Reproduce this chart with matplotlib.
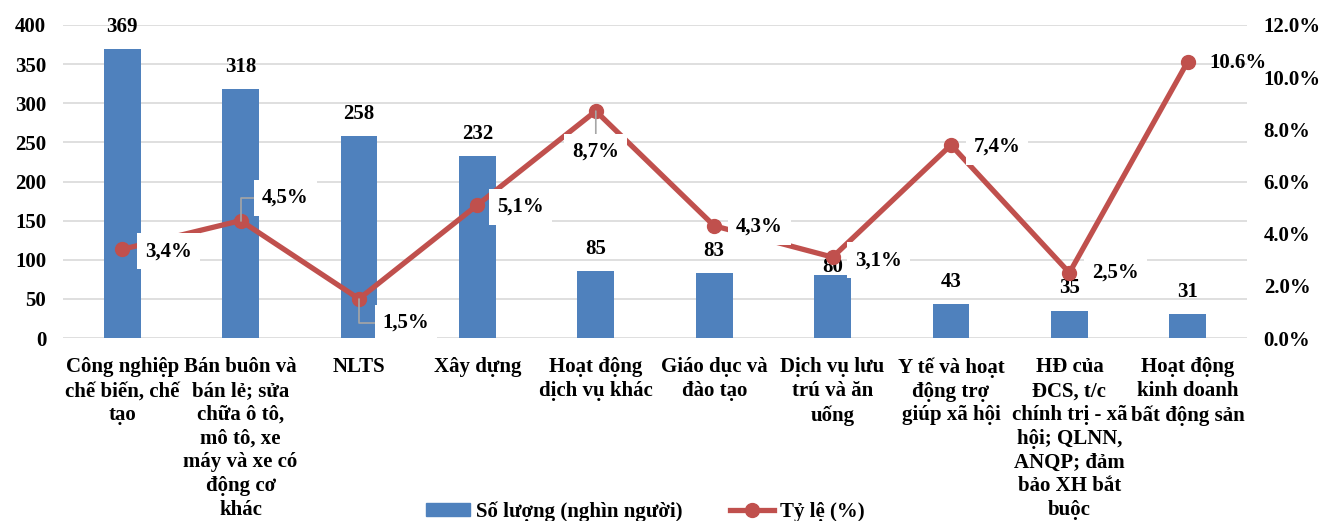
import numpy as np
import matplotlib
matplotlib.use("Agg")
import matplotlib.pyplot as plt
from matplotlib.ticker import FuncFormatter

plt.rcParams['font.family'] = ['Liberation Serif', 'DejaVu Serif']
plt.rcParams['font.weight'] = 'bold'
plt.rcParams['font.size'] = 15

categories = [
    "Công nghiệp\nchế biến, chế\ntạo",
    "Bán buôn và\nbán lẻ; sửa\nchữa ô tô,\nmô tô, xe\nmáy và xe có\nđộng cơ\nkhác",
    "NLTS",
    "Xây dựng",
    "Hoạt động\ndịch vụ khác",
    "Giáo dục và\nđào tạo",
    "Dịch vụ lưu\ntrú và ăn\nuống",
    "Y tế và hoạt\nđộng trợ\ngiúp xã hội",
    "HĐ của\nĐCS, t/c\nchính trị - xã\nhội; QLNN,\nANQP; đảm\nbảo XH bắt\nbuộc",
    "Hoạt động\nkinh doanh\nbất động sản",
]
so_luong = [369, 318, 258, 232, 85, 83, 80, 43, 35, 31]
ty_le = [3.4, 4.5, 1.5, 5.1, 8.7, 4.3, 3.1, 7.4, 2.5, 10.6]
ty_le_labels = ["3,4%", "4,5%", "1,5%", "5,1%", "8,7%", "4,3%", "3,1%", "7,4%", "2,5%", "10.6%"]

# label placement in pixels
bar_lbl_dy = [22, 22, 22, 22, 22, 22, 8, 22, 23, 22]
lbl_offsets = [(46, -2), (45, 23), (47, -24), (43, -2), (0, -41),
               (45, -1), (46, -3), (46, -2), (46, 0), (50, -1)]
leaders = {1: 'angle', 2: 'angle', 4: 'straight'}

blue = '#4F81BD'
red = '#C0504D'
grid = '#D9D9D9'

fig = plt.figure(figsize=(13.25, 5.21), dpi=100)
ax = fig.add_axes([63 / 1325, 1 - 338 / 521, (1247 - 63) / 1325, (338 - 25) / 521])
x = np.arange(len(categories))

ax.bar(x, so_luong, width=0.31, color=blue, zorder=2)
for xi, v, dy in zip(x, so_luong, bar_lbl_dy):
    ax.annotate(str(v), (xi, v), xytext=(0, dy), textcoords='offset pixels',
                ha='center', va='center', fontsize=15, fontweight='bold', zorder=3)

ax.set_xlim(-0.5, len(categories) - 0.5)
ax.set_ylim(0, 400)
ax.set_yticks(range(0, 401, 50))
ax.set_xticks(x)
ax.set_xticklabels(categories, linespacing=1.25, fontsize=15, fontweight='bold')
ax.yaxis.grid(True, color=grid, linewidth=1.2, zorder=0)
ax.set_axisbelow(True)
ax.tick_params(axis='both', length=0)
ax.tick_params(axis='y', pad=12)
ax.tick_params(axis='x', pad=14)
for s in ax.spines.values():
    s.set_visible(False)

ax2 = ax.twinx()
ax2.plot(x, ty_le, color=red, linewidth=3.8, marker='o', markersize=10, zorder=4)
ax2.set_ylim(0, 12)
ax2.set_yticks(np.arange(0, 12.1, 2))
ax2.yaxis.set_major_formatter(FuncFormatter(lambda v, p: '%.1f%%' % v))
ax2.tick_params(axis='y', length=0, pad=12)
for s in ax2.spines.values():
    s.set_visible(False)

for i, (xi, v, t) in enumerate(zip(x, ty_le, ty_le_labels)):
    arrow = None
    if leaders.get(i) == 'angle':
        arrow = dict(arrowstyle='-', color='#A6A6A6', lw=1.2, shrinkA=0, shrinkB=0,
                     connectionstyle='angle,angleA=0,angleB=90,rad=0')
    elif leaders.get(i) == 'straight':
        arrow = dict(arrowstyle='-', color='#A6A6A6', lw=1.2, shrinkA=0, shrinkB=0)
    box = dict(boxstyle='square,pad=0.38', facecolor='white', edgecolor='none')
    if i == len(ty_le) - 1:
        box = None
    ax2.annotate(t, (xi, v), xytext=lbl_offsets[i], textcoords='offset pixels',
                 ha='center', va='center', fontsize=15, fontweight='bold', zorder=5,
                 bbox=box, arrowprops=arrow)

h1 = plt.Rectangle((0, 0), 1, 1, color=blue)
h2, = ax2.plot([], [], color=red, linewidth=3.8, marker='o', markersize=10)
fig.legend([h1, h2], ["Số lượng (nghìn người)", "Tỷ lệ (%)"], loc='center',
           bbox_to_anchor=(0.487, 0.018), ncol=2, frameon=False, handlelength=2.1,
           handleheight=0.55, handletextpad=0.3, columnspacing=2.3, borderpad=0,
           prop=dict(size=15, weight='bold'))

fig.savefig('out.png', dpi=100)
